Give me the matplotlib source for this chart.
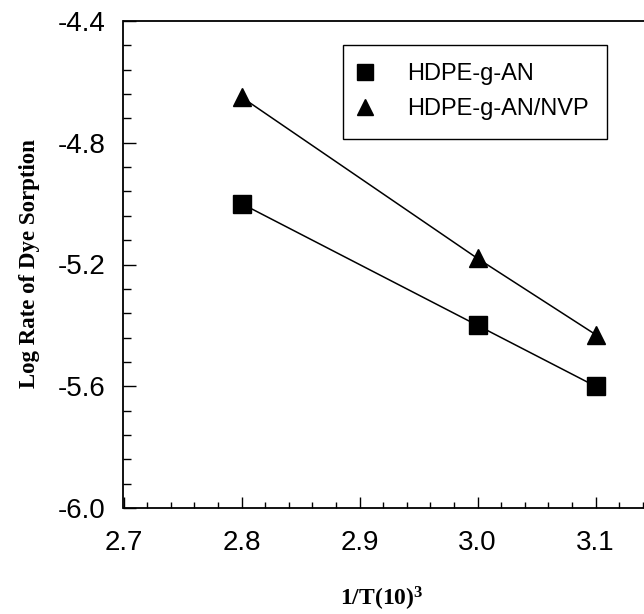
import numpy as np
import matplotlib
matplotlib.use('Agg')
import matplotlib.pyplot as plt
from matplotlib.ticker import MultipleLocator, FixedLocator
from matplotlib.lines import Line2D

plt.rcParams['axes.unicode_minus'] = False
plt.rcParams['mathtext.default'] = 'regular'

# data
inv_T = [2.8, 3.0, 3.1]
an = [-5.00, -5.40, -5.60]
an_nvp = [-4.65, -5.18, -5.43]
labels = ['HDPE-g-AN', 'HDPE-g-AN/NVP']

W, H = 644, 614
fig = plt.figure(figsize=(W / 100, H / 100), dpi=100)

# axes runs past the right edge like in the scanned figure
left, right, top, bottom = 123.5, 123.5 + 5 * 118, 21, 508
ax = fig.add_axes([left / W, 1 - bottom / H, (right - left) / W, (bottom - top) / H])

ax.plot(inv_T, an, color='black', lw=1.1, marker='s', ms=12.5, label=labels[0])
ax.plot(inv_T, an_nvp, color='black', lw=1.1, marker='^', ms=13, label=labels[1])

ax.set_xlim(2.7, 3.2)
ax.set_ylim(-6.0, -4.4)
ax.xaxis.set_major_locator(FixedLocator([2.7, 2.8, 2.9, 3.0, 3.1]))
ax.xaxis.set_minor_locator(MultipleLocator(0.02))
ax.yaxis.set_major_locator(FixedLocator([-6.0, -5.6, -5.2, -4.8, -4.4]))
ax.yaxis.set_minor_locator(MultipleLocator(0.08))
ax.set_xticklabels(['2.7', '2.8', '2.9', '3.0', '3.1'])
ax.set_yticklabels(['-6.0', '-5.6', '-5.2', '-4.8', '-4.4'])

ax.tick_params(axis='both', which='both', direction='in', top=False, right=False,
               width=1.0, labelsize=20, labelfontfamily='Liberation Sans')
ax.tick_params(axis='x', which='major', length=8, pad=16)
ax.tick_params(axis='x', which='minor', length=4.5)
ax.tick_params(axis='y', which='major', length=9, pad=13)
ax.tick_params(axis='y', which='minor', length=5.5)
for s in ax.spines.values():
    s.set_linewidth(1.3)

# legend with markers only
h = [Line2D([], [], ls='none', marker='s', color='black', ms=11),
     Line2D([], [], ls='none', marker='^', color='black', ms=12)]
leg = fig.legend(h, labels, loc='upper left', bbox_to_anchor=(343 / W, 1 - 45 / H),
                 frameon=True, fancybox=False, edgecolor='black', framealpha=1,
                 prop={'family': 'Liberation Sans', 'size': 17}, borderpad=0.78,
                 handlelength=0.3, handletextpad=1.63, labelspacing=0.55,
                 borderaxespad=0)
leg.get_frame().set_linewidth(1.0)

fig.text(382 / W, 1 - 606 / H, '1/T(10)$^{3}$', ha='center', va='baseline',
         family='Liberation Serif', weight='bold', fontsize=17)
fig.text(30 / W, 1 - 264 / H, 'Log Rate of Dye Sorption', ha='center', va='center',
         rotation=90, family='Liberation Serif', weight='bold', fontsize=16.5)

fig.savefig('out.png', dpi=100)
